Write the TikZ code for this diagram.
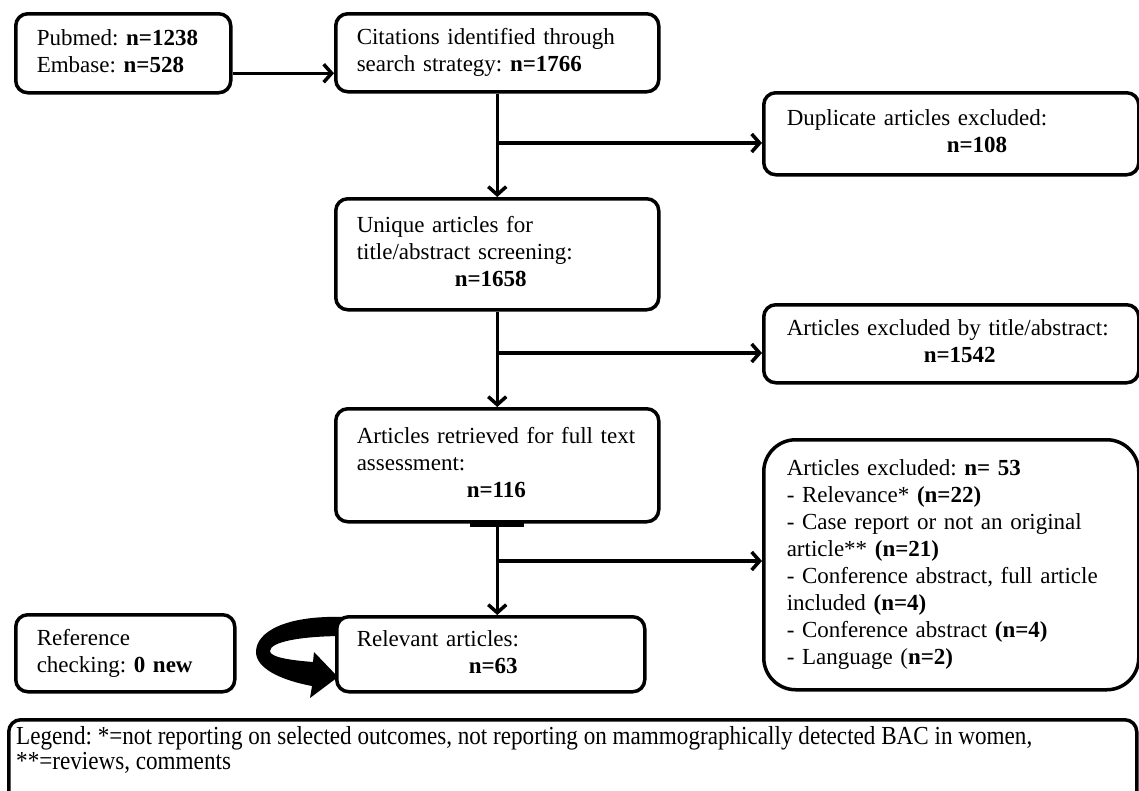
\documentclass[tikz,border=0pt]{standalone}
\usepackage{fontspec}
\setmainfont{Liberation Serif}
\usepackage{graphicx}
\usetikzlibrary{arrows.meta,calc}
\newcommand{\boxlines}[1]{\begin{tabular}{@{}l@{}}#1\end{tabular}}
\begin{document}
\begin{tikzpicture}[x=1pt,y=-1pt,
  box/.style={draw=black,line width=3.5pt,rounded corners=12pt,fill=white,anchor=north west,
    inner xsep=21pt,inner ysep=0pt,align=left,
    font=\fontsize{23}{27}\selectfont\frenchspacing\renewcommand{\arraystretch}{1}},
  conn/.style={line width=3.5pt,-{Straight Barb[length=8pt,width=18pt]}},
  trunk/.style={line width=3.5pt}]
\useasboundingbox (0,0) rectangle (1139,790);

% loop arrow (drawn under the box)
\fill[black] (345,617) .. controls (285,615) and (256,632) .. (256,652)
  .. controls (256,668) and (280,680) .. (312,686)
  -- (310,698) -- (338,677) -- (314,652) -- (313,662)
  .. controls (288,660) and (270,657) .. (270,651)
  .. controls (270,642) and (300,636) .. (345,636) -- cycle;

\node[box,minimum width=215pt,minimum height=79pt,text width=173pt] (pub) at (14,12)
  {\boxlines{Pubmed: \textbf{n=1238}\\Embase: \textbf{n=528}}};
\node[box,minimum width=323pt,minimum height=78pt,text width=281pt] (cit) at (334,12)
  {\boxlines{Citations identified through\\search strategy: \textbf{n=1766}}};
\node[box,inner xsep=23pt,minimum width=375pt,minimum height=82pt,text width=329pt] (dup) at (762,91)
  {\boxlines{Duplicate articles excluded:\\\hspace*{160pt}\textbf{n=108}}};
\node[box,minimum width=323pt,minimum height=111pt,text width=281pt] (uniq) at (334,197)
  {\boxlines{Unique articles for\\title/abstract screening:\\\hspace*{98pt}\textbf{n=1658}}};
\node[box,inner xsep=23pt,minimum width=375pt,minimum height=78pt,text width=329pt] (ex1) at (762,303)
  {\boxlines{Articles excluded by title/abstract:\\\hspace*{137pt}\textbf{n=1542}}};
\node[box,minimum width=323pt,minimum height=113pt,text width=281pt] (retr) at (334,407)
  {\boxlines{Articles retrieved for full text\\assessment:\\\hspace*{110pt}\textbf{n=116}}};
\node[box,rounded corners=32pt,inner xsep=23pt,minimum width=375pt,minimum height=250pt,text width=329pt] (ex2) at (762,438)
  {\boxlines{Articles excluded: \textbf{n= 53}\\- Relevance* \textbf{(n=22)}\\- Case report or not an original\\article** \textbf{(n=21)}\\- Conference abstract, full article\\included \textbf{(n=4)}\\- Conference abstract \textbf{(n=4)}\\- Language (\textbf{n=2)}}};
\node[box,inner xsep=20pt,minimum width=308pt,minimum height=75pt,text width=268pt] (rel) at (335,615)
  {\boxlines{Relevant articles:\\\hspace*{112pt}\textbf{n=63}}};
\node[box,minimum width=219pt,minimum height=77pt,text width=177pt] (ref) at (14,613)
  {\boxlines{Reference\\checking: \textbf{0 new}}};

% legend
\node[box,minimum width=1128pt,minimum height=110pt] (legbox) at (7,718) {};
\node[anchor=north west,inner sep=0pt] (legtext) at (16,726)
  {\resizebox{1016pt}{\height}{\fontsize{26}{25}\selectfont\frenchspacing\renewcommand{\arraystretch}{1}\begin{tabular}{@{}l@{}}Legend: *=not reporting on selected outcomes, not reporting on mammographically detected BAC in women,\\{}**=reviews, comments\end{tabular}}};

% connectors
\draw[conn] ([yshift=-20pt]pub.east) -- ([yshift=-20pt]pub.east -| cit.west);

\coordinate (b1) at (496,143);
\coordinate (b2) at (496,353);
\coordinate (b3) at (496,561);
\draw[conn] (cit.south) -- (uniq.north);
\draw[conn] (b1) -- (b1 -| dup.west);
\draw[conn] (uniq.south) -- (retr.north);
\draw[conn] (b2) -- (b2 -| ex1.west);
\draw[conn] (retr.south) -- (retr.south |- rel.north);
\draw[conn] (b3) -- (b3 -| ex2.west);
\draw[line width=7pt] ([xshift=-27pt]retr.south) -- ([xshift=27pt]retr.south);
\end{tikzpicture}
\end{document}
